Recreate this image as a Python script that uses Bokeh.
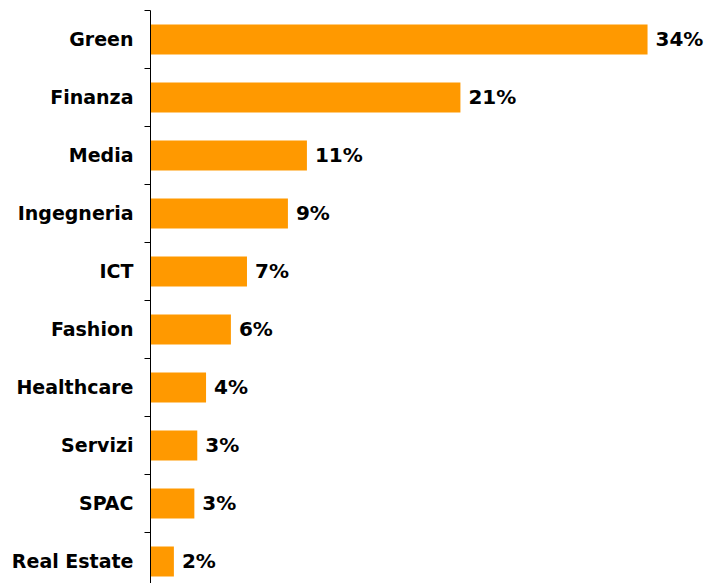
from bokeh.plotting import figure
from bokeh.models import ColumnDataSource, Range1d, FixedTicker
from bokeh.core.properties import value
from bokeh.embed import file_html
from bokeh.resources import INLINE

categories = ["Green", "Finanza", "Media", "Ingegneria", "ICT", "Fashion",
              "Healthcare", "Servizi", "SPAC", "Real Estate"]
shares = [34.0, 21.2, 10.7, 9.4, 6.6, 5.5, 3.8, 3.2, 3.0, 1.6]
share_labels = ["34%", "21%", "11%", "9%", "7%", "6%", "4%", "3%", "3%", "2%"]

n = len(categories)
ypos = [n - 1 - i for i in range(n)]

src = ColumnDataSource(dict(y=ypos, v=shares, lab=share_labels, cat=categories))

p = figure(width=708, height=583, output_backend="svg", toolbar_location=None,
           x_range=Range1d(0, 38.17), y_range=Range1d(-0.38, n - 0.5),
           min_border_left=150, min_border_right=0, min_border_top=10, min_border_bottom=0)

p.hbar(y="y", right="v", left=0, height=0.52, source=src, color="#FF9900", line_color=None)
p.text(x="v", y="y", text="lab", source=src, x_offset=8, text_baseline="middle",
       text_align="left", text_font=value("DejaVu Sans"), text_font_style="bold",
       text_font_size="20px", text_color="black")

p.xaxis.visible = False
p.xgrid.visible = False
p.ygrid.visible = False
p.outline_line_color = None

ax = p.yaxis[0]
ax.ticker = FixedTicker(ticks=ypos, minor_ticks=[i - 0.5 for i in range(n + 1)])
ax.major_label_overrides = {y: c for y, c in zip(ypos, categories)}
ax.major_tick_out = 0
ax.major_tick_in = 0
ax.minor_tick_out = 6
ax.minor_tick_in = 0
ax.minor_tick_line_color = "black"
ax.axis_line_color = "black"
ax.major_label_standoff = 11
ax.major_label_text_font = "DejaVu Sans"
ax.major_label_text_font_style = "bold"
ax.major_label_text_font_size = "19px"
ax.major_label_text_color = "black"

open("out.html", "w").write(file_html(p, INLINE))
